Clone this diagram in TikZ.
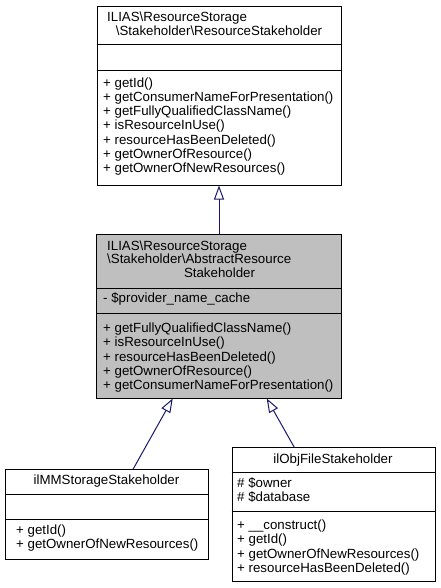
\documentclass[tikz,border=0pt]{standalone}
\usepackage{fontspec}
\setmainfont{Liberation Sans}
\usetikzlibrary{arrows.meta}
\definecolor{edgeblue}{HTML}{191970}
\definecolor{absfill}{HTML}{BFBFBF}
\begin{document}
\begin{tikzpicture}[x=1pt,y=-1pt,
  cls/.style={draw=black, line width=1pt, inner sep=0pt, anchor=north west},
  sep/.style={draw=black, line width=1pt},
  txt/.style={inner sep=0pt, font=\fontsize{13.3}{14}\selectfont},
  inh/.style={draw=edgeblue, line width=1pt, -{Triangle[open,length=14pt,width=10pt]}}]
\useasboundingbox (0,0) rectangle (440,588);
% ---- class A ----
\node[cls, minimum width=244.5pt, minimum height=178pt] (A) at (96.5,6.5) {};
\draw[sep] (96.5,44.5) -- (341,44.5);
\draw[sep] (96.5,71) -- (341,71);
\node[txt, anchor=base west] (At1) at (107,22) {ILIAS\textbackslash ResourceStorage};
\node[txt, anchor=base] (At2) at (219,35.5) {\textbackslash Stakeholder\textbackslash ResourceStakeholder};
\foreach \t [count=\i] in {+ getId(), + getConsumerNameForPresentation(), + getFullyQualifiedClassName(), + isResourceInUse(), + resourceHasBeenDeleted(), + getOwnerOfResource(), + getOwnerOfNewResources()}
  \node[txt, anchor=base west] (Am\i) at (103, 87.3+14.2*\i-14.2) {\t};
% ---- class B ----
\node[cls, fill=absfill, minimum width=245pt, minimum height=163.5pt] (B) at (96,234) {};
\draw[sep] (96,288) -- (341,288);
\draw[sep] (96,313) -- (341,313);
\node[txt, anchor=base west] (Bt1) at (107,250) {ILIAS\textbackslash ResourceStorage};
\node[txt, anchor=base west] (Bt2) at (107,263.5) {\textbackslash Stakeholder\textbackslash AbstractResource};
\node[txt, anchor=base] (Bt3) at (219.5,277) {Stakeholder};
\node[txt, anchor=base west] (Ba1) at (103,302.5) {- \$provider\_name\_cache};
\foreach \t [count=\i] in {+ getFullyQualifiedClassName(), + isResourceInUse(), + resourceHasBeenDeleted(), + getOwnerOfResource(), + getConsumerNameForPresentation()}
  \node[txt, anchor=base west] (Bm\i) at (103, 332.7+14.2*\i-14.2) {\t};
% ---- class C ----
\node[cls, minimum width=203.5pt, minimum height=90pt] (C) at (4.8,469.3) {};
\draw[sep] (4.8,494) -- (208.3,494);
\draw[sep] (4.8,519.3) -- (208.3,519.3);
\node[txt, anchor=base] (Ct1) at (106.5,484.3) {ilMMStorageStakeholder};
\node[txt, anchor=base west] (Cm1) at (16,534.3) {+ getId()};
\node[txt, anchor=base west] (Cm2) at (16,548.6) {+ getOwnerOfNewResources()};
% ---- class D ----
\node[cls, minimum width=203pt, minimum height=133.7pt] (D) at (231.5,447.3) {};
\draw[sep] (231.5,472.7) -- (434.5,472.7);
\draw[sep] (231.5,511.7) -- (434.5,511.7);
\node[txt, anchor=base] (Dt1) at (333,463.3) {ilObjFileStakeholder};
\node[txt, anchor=base west] (Da1) at (237,487) {\# \$owner};
\node[txt, anchor=base west] (Da2) at (237,501.2) {\# \$database};
\foreach \t [count=\i] in {+ \_\_construct(), + getId(), + getOwnerOfNewResources(), + resourceHasBeenDeleted()}
  \node[txt, anchor=base west] (Dm\i) at (237, 529.3+14.4*\i-14.4) {\t};
% ---- inheritance ----
\draw[inh] (B.north -| 219,0) -- (A.south -| 219,0);
\draw[inh] (C.north -| 133,0) -- (B.south -| 172.7,0);
\draw[inh] (D.north -| 294.3,0) -- (B.south -| 266.7,0);
\end{tikzpicture}
\end{document}
